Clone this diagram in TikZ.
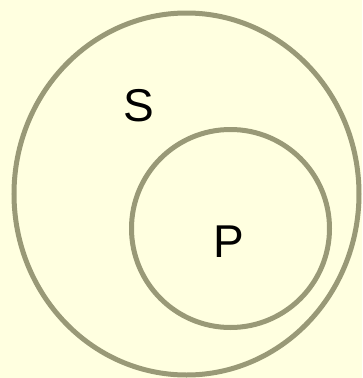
\documentclass[tikz,border=0pt]{standalone}
\usepackage{fontspec}
\setmainfont{Liberation Sans}
\usetikzlibrary{shapes.geometric,positioning}
\definecolor{bgyellow}{RGB}{255,255,224}
\definecolor{setline}{RGB}{153,153,119}

\begin{document}
\begin{tikzpicture}[x=1pt, y=-1pt,
    setshape/.style={draw=setline, line width=5pt, inner sep=0pt},
    setlabel/.style={inner sep=0pt, font=\fontsize{46}{46}\selectfont}]
    \fill[bgyellow] (0,0) rectangle (362,378);
    \useasboundingbox (0,0) rectangle (362,378);
    \node[setshape, ellipse, minimum width=345pt, minimum height=362pt] (outer) at (186.5,194) {};
    \node[setshape, circle, minimum size=198pt] (inner) at (230.5,228.5) {};
    \node[setlabel] (s) at (138.5,106) {S};
    \node[setlabel] (p) at (229,241.5) {P};
\end{tikzpicture}
\end{document}
